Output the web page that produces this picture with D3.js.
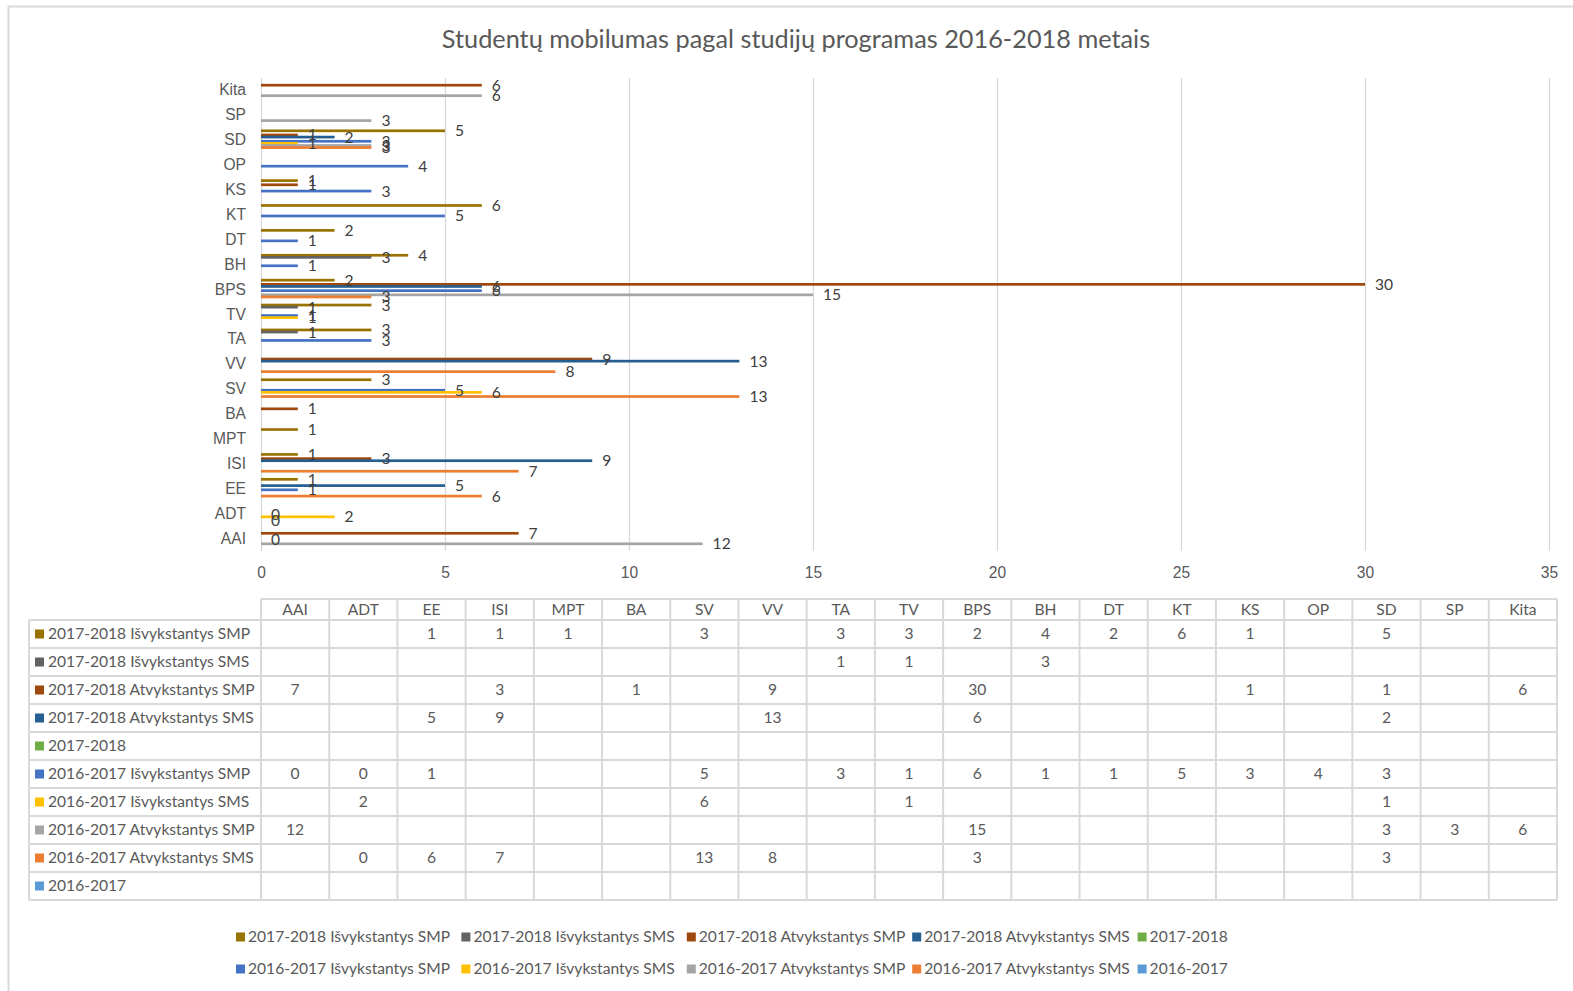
<!DOCTYPE html>
<html>
<head>
<meta charset="utf-8">
<script src="https://cdn.jsdelivr.net/npm/d3@7"></script>
<style>
  body { margin: 0; background: #fff; }
  svg { display: block; font-family: Lato, 'Open Sans', sans-serif; }
</style>
</head>
<body>
<svg id="chart"></svg>
<script>
const w = 1573, h = 991;

const title = 'Studentų mobilumas pagal studijų programas 2016-2018 metais';

const categories = ['AAI', 'ADT', 'EE', 'ISI', 'MPT', 'BA', 'SV', 'VV', 'TA', 'TV',
    'BPS', 'BH', 'DT', 'KT', 'KS', 'OP', 'SD', 'SP', 'Kita'];

// table / legend order (top row first)
const seriesNames = [
    '2017-2018 Išvykstantys SMP',
    '2017-2018 Išvykstantys SMS',
    '2017-2018 Atvykstantys SMP',
    '2017-2018 Atvykstantys SMS',
    '2017-2018',
    '2016-2017 Išvykstantys SMP',
    '2016-2017 Išvykstantys SMS',
    '2016-2017 Atvykstantys SMP',
    '2016-2017 Atvykstantys SMS',
    '2016-2017'
];

const seriesColors = ['#997300', '#636363', '#9e480e', '#255e91', '#70ad47',
    '#4472c4', '#ffc000', '#a5a5a5', '#ed7d31', '#5b9bd5'];

const _ = null;
//                AAI ADT EE ISI MPT BA SV VV TA TV BPS BH DT KT KS OP SD SP Kita
const isv1718smp = [_, _, 1, 1, 1, _, 3, _, 3, 3, 2, 4, 2, 6, 1, _, 5, _, _];
const isv1718sms = [_, _, _, _, _, _, _, _, 1, 1, _, 3, _, _, _, _, _, _, _];
const atv1718smp = [7, _, _, 3, _, 1, _, 9, _, _, 30, _, _, _, 1, _, 1, _, 6];
const atv1718sms = [_, _, 5, 9, _, _, _, 13, _, _, 6, _, _, _, _, _, 2, _, _];
const y1718      = [_, _, _, _, _, _, _, _, _, _, _, _, _, _, _, _, _, _, _];
const isv1617smp = [0, 0, 1, _, _, _, 5, _, 3, 1, 6, 1, 1, 5, 3, 4, 3, _, _];
const isv1617sms = [_, 2, _, _, _, _, 6, _, _, 1, _, _, _, _, _, _, 1, _, _];
const atv1617smp = [12, _, _, _, _, _, _, _, _, _, 15, _, _, _, _, _, 3, 3, 6];
const atv1617sms = [_, 0, 6, 7, _, _, 13, 8, _, _, 3, _, _, _, _, _, 3, _, _];
const y1617      = [_, _, _, _, _, _, _, _, _, _, _, _, _, _, _, _, _, _, _];

const seriesValues = [isv1718smp, isv1718sms, atv1718smp, atv1718sms, y1718,
    isv1617smp, isv1617sms, atv1617smp, atv1617sms, y1617];

const xTicks = [0, 5, 10, 15, 20, 25, 30, 35];

const plot = { left: 261, right: 1549, top: 78, bottom: 551 };
const table = { left: 29, top: 599, headH: 21, rowH: 28 };
const textColor = '#595959', lineColor = '#d9d9d9';
const fs = '15.6px';

const chart = d3.select('#chart')
    .attr('width', w)
    .attr('height', h);

// outer frame (only left and top edges are in view)
chart.append('path')
    .attr('d', `M8.5,${h} V6.5 H${w}`)
    .attr('fill', 'none')
    .attr('stroke', lineColor)
    .attr('stroke-width', 2);

chart.append('text')
    .attr('x', 796)
    .attr('y', 48)
    .attr('text-anchor', 'middle')
    .attr('font-size', '25.3px')
    .attr('fill', textColor)
    .text(title);

const xScale = d3.scaleLinear()
    .domain([0, 35])
    .range([plot.left, plot.right]);

const yScale = d3.scaleBand()
    .domain(categories)
    .range([plot.bottom, plot.top])
    .paddingInner(0.157)
    .paddingOuter(0.0785);

const inner = d3.scaleBand()
    .domain(seriesNames)
    .range([0, yScale.bandwidth()]);

chart.append('g')
    .selectAll('line')
    .data(xTicks)
    .join('line')
    .attr('x1', d => xScale(d) + 0.5)
    .attr('x2', d => xScale(d) + 0.5)
    .attr('y1', plot.top)
    .attr('y2', plot.bottom)
    .attr('stroke', lineColor)
    .attr('stroke-width', 1.3);

const xAxis = chart.append('g')
    .attr('transform', `translate(0, ${plot.bottom})`)
    .call(d3.axisBottom(xScale).tickValues(xTicks).tickSize(0).tickPadding(16));
xAxis.select('.domain').remove();
xAxis.selectAll('text')
    .attr('font-size', fs)
    .attr('fill', textColor);

const yAxis = chart.append('g')
    .attr('transform', `translate(${plot.left - 15}, 0)`)
    .call(d3.axisLeft(yScale).tickSize(0).tickPadding(0));
yAxis.select('.domain').remove();
yAxis.selectAll('text')
    .attr('font-size', fs)
    .attr('fill', textColor);

// flatten to bar records, skipping empty cells
const bars = [];
seriesNames.forEach((s, i) => {
    seriesValues[i].forEach((v, j) => {
        if (v !== null) bars.push({ series: s, color: seriesColors[i], cat: categories[j], value: v });
    });
});

chart.append('g')
    .selectAll('rect')
    .data(bars)
    .join('rect')
    .attr('x', xScale(0))
    .attr('y', d => yScale(d.cat) + inner(d.series) - 0.3)
    .attr('width', d => xScale(d.value) - xScale(0))
    .attr('height', inner.bandwidth() + 0.6)
    .attr('fill', d => d.color);

chart.append('g')
    .selectAll('text')
    .data(bars)
    .join('text')
    .attr('x', d => xScale(d.value) + 10)
    .attr('y', d => yScale(d.cat) + inner(d.series) + inner.bandwidth() / 2)
    .attr('dy', '0.35em')
    .attr('font-size', fs)
    .attr('fill', '#404040')
    .text(d => d.value);

// data table
const colW = (xScale(35) + 8 - plot.left) / categories.length;
const tableRight = plot.left + colW * categories.length;
const rowsTop = table.top + table.headH;
const tableBottom = rowsTop + table.rowH * seriesNames.length;
const grid = chart.append('g')
    .attr('stroke', lineColor)
    .attr('stroke-width', 2)
    .attr('fill', 'none');

grid.append('line')
    .attr('x1', plot.left).attr('x2', tableRight)
    .attr('y1', table.top).attr('y2', table.top);
grid.selectAll('.hrow')
    .data(d3.range(seriesNames.length + 1))
    .join('line')
    .attr('x1', table.left).attr('x2', tableRight)
    .attr('y1', i => rowsTop + i * table.rowH)
    .attr('y2', i => rowsTop + i * table.rowH);
grid.append('line')
    .attr('x1', table.left).attr('x2', table.left)
    .attr('y1', rowsTop).attr('y2', tableBottom);
grid.selectAll('.vcol')
    .data(d3.range(categories.length + 1))
    .join('line')
    .attr('x1', i => plot.left + i * colW)
    .attr('x2', i => plot.left + i * colW)
    .attr('y1', table.top).attr('y2', tableBottom);

chart.append('g')
    .selectAll('text')
    .data(categories)
    .join('text')
    .attr('x', (d, i) => plot.left + (i + 0.5) * colW)
    .attr('y', table.top + table.headH / 2)
    .attr('dy', '0.35em')
    .attr('text-anchor', 'middle')
    .attr('font-size', fs)
    .attr('fill', textColor)
    .text(d => d);

const rows = chart.append('g')
    .selectAll('g')
    .data(seriesNames)
    .join('g')
    .attr('transform', (d, i) => `translate(0, ${rowsTop + (i + 0.5) * table.rowH})`);

rows.append('rect')
    .attr('x', 35).attr('y', -4.5)
    .attr('width', 9).attr('height', 9)
    .attr('fill', (d, i) => seriesColors[i]);

rows.append('text')
    .attr('x', 48)
    .attr('dy', '0.35em')
    .attr('font-size', fs)
    .attr('fill', textColor)
    .text(d => d);

rows.selectAll('.val')
    .data((d, i) => seriesValues[i].map((v, j) => ({ v, j })).filter(c => c.v !== null))
    .join('text')
    .attr('x', c => plot.left + (c.j + 0.5) * colW)
    .attr('dy', '0.35em')
    .attr('text-anchor', 'middle')
    .attr('font-size', fs)
    .attr('fill', textColor)
    .text(c => c.v);

// legend, two rows of five
const legendCol = 225.4;
const legend = chart.append('g')
    .selectAll('g')
    .data(seriesNames)
    .join('g')
    .attr('transform', (d, i) => `translate(${236 + (i % 5) * legendCol}, ${937 + Math.floor(i / 5) * 32})`);

legend.append('rect')
    .attr('x', 0).attr('y', -4.5)
    .attr('width', 9).attr('height', 9)
    .attr('fill', (d, i) => seriesColors[i]);

legend.append('text')
    .attr('x', 12)
    .attr('dy', '0.35em')
    .attr('font-size', fs)
    .attr('fill', textColor)
    .text(d => d);
</script>
</body>
</html>
